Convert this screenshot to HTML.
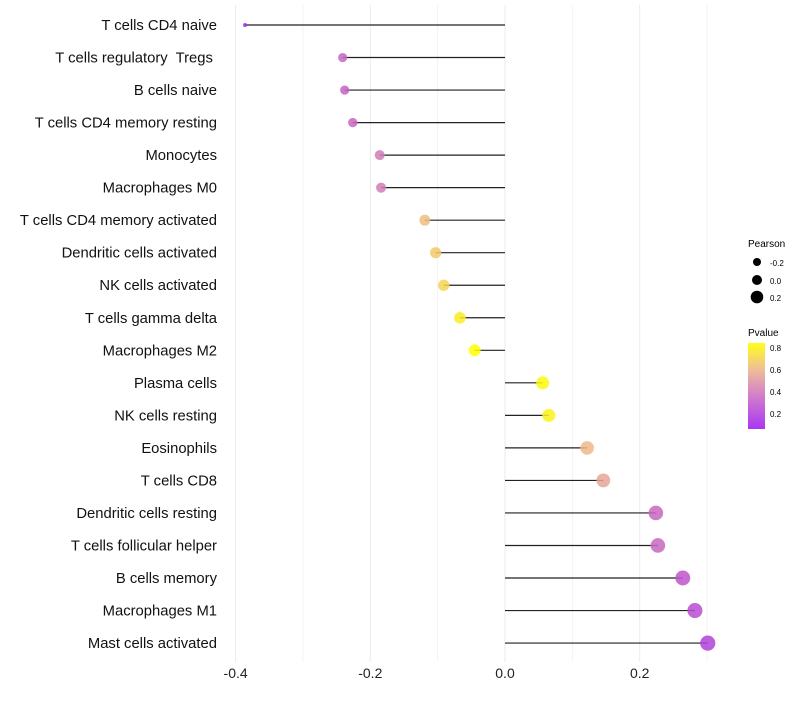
<!DOCTYPE html>
<html><head><meta charset="utf-8"><style>
body{margin:0;background:#fff;font-family:"Liberation Sans",sans-serif}
</style></head><body>
<svg id="chart" width="800" height="700" xmlns="http://www.w3.org/2000/svg" font-family="Liberation Sans, sans-serif">
<defs><linearGradient id="pg" x1="0" y1="1" x2="0" y2="0">
<stop offset="0" stop-color="#A020F0"/><stop offset="0.3" stop-color="#C45DD0"/><stop offset="0.5" stop-color="#D98AB0"/><stop offset="0.7" stop-color="#EEB88A"/><stop offset="1" stop-color="#FFFF00"/></linearGradient></defs>
<g id="grid"></g><g id="marks"></g><g id="labels"></g>
<g>
<text x="748" y="247" font-size="10">Pearson</text>
<circle cx="757" cy="262" r="4" fill="#000"/><text x="770" y="266" font-size="8">-0.2</text>
<circle cx="757" cy="280" r="5" fill="#000"/><text x="770" y="284" font-size="8">0.0</text>
<circle cx="757" cy="297" r="6.3" fill="#000"/><text x="770" y="301" font-size="8">0.2</text>
<text x="748" y="336" font-size="10">Pvalue</text>
<rect x="748" y="343" width="17" height="86" fill="url(#pg)" opacity="0.9"/>
<text x="770" y="351" font-size="8">0.8</text><text x="770" y="373" font-size="8">0.6</text>
<text x="770" y="395" font-size="8">0.4</text><text x="770" y="417" font-size="8">0.2</text>
</g>
</svg>
<script>
const categories=["T cells CD4 naive","T cells regulatory  Tregs ","B cells naive","T cells CD4 memory resting","Monocytes","Macrophages M0","T cells CD4 memory activated","Dendritic cells activated","NK cells activated","T cells gamma delta","Macrophages M2","Plasma cells","NK cells resting","Eosinophils","T cells CD8","Dendritic cells resting","T cells follicular helper","B cells memory","Macrophages M1","Mast cells activated"];
const pearson=[-0.386,-0.241,-0.238,-0.226,-0.186,-0.184,-0.119,-0.103,-0.091,-0.067,-0.045,0.056,0.065,0.122,0.146,0.224,0.227,0.264,0.282,0.301];
const pvalue=[0.1,0.34,0.33,0.35,0.43,0.43,0.62,0.66,0.7,0.78,0.84,0.82,0.8,0.6,0.55,0.35,0.35,0.28,0.24,0.2];
const xTicks=[-0.4,-0.2,0.0,0.2];
const xGrid=[-0.4,-0.3,-0.2,-0.1,0,0.1,0.2,0.3];
const NS="http://www.w3.org/2000/svg";
const xS=v=>505+v*673.5;
const yS=i=>25+i*32.53;
const stops=[[0.07,[160,32,240]],[0.3,[192,90,200]],[0.45,[212,130,180]],[0.6,[238,184,138]],[0.845,[255,255,0]]];
function col(p){if(p<=stops[0][0])return "rgb("+stops[0][1]+")";for(let k=1;k<stops.length;k++){if(p<=stops[k][0]){const a=stops[k-1],b=stops[k],t=(p-a[0])/(b[0]-a[0]);return "rgb("+a[1].map((c,j)=>Math.round(c+(b[1][j]-c)*t)).join(",")+")";}}return "rgb(255,255,0)";}
function mk(t,attrs,parent){const e=document.createElementNS(NS,t);for(const k in attrs)e.setAttribute(k,attrs[k]);parent.appendChild(e);return e;}
const grid=document.getElementById('grid'),marks=document.getElementById('marks'),labels=document.getElementById('labels');
xGrid.forEach(v=>{const l=mk('line',{x1:xS(v),x2:xS(v),y1:5,y2:662,stroke:Math.abs(v*10)%2<0.01?'#ebebeb':'#f3f3f3','stroke-width':1},grid);

});
xTicks.forEach(v=>{const t=mk('text',{x:xS(v),y:678,'font-size':14,'text-anchor':'middle',fill:'#222'},labels);t.textContent=v.toFixed(1);

});
categories.forEach((c,i)=>{const y=yS(i);
const t=mk('text',{x:217,y:y+5,'font-size':14.8,'text-anchor':'end',fill:'#111',style:'white-space:pre'},labels);t.textContent=c;


const l=mk('line',{x1:xS(0),x2:xS(pearson[i]),y1:y,y2:y,stroke:'#222','stroke-width':1.2},marks);


const r=2+5.6*Math.sqrt(Math.max(0,(pearson[i]+0.386)/0.686));
const d=mk('circle',{cx:xS(pearson[i]),cy:y,r:r,fill:col(pvalue[i]),opacity:0.85},marks);

});
</script>
</body></html>
